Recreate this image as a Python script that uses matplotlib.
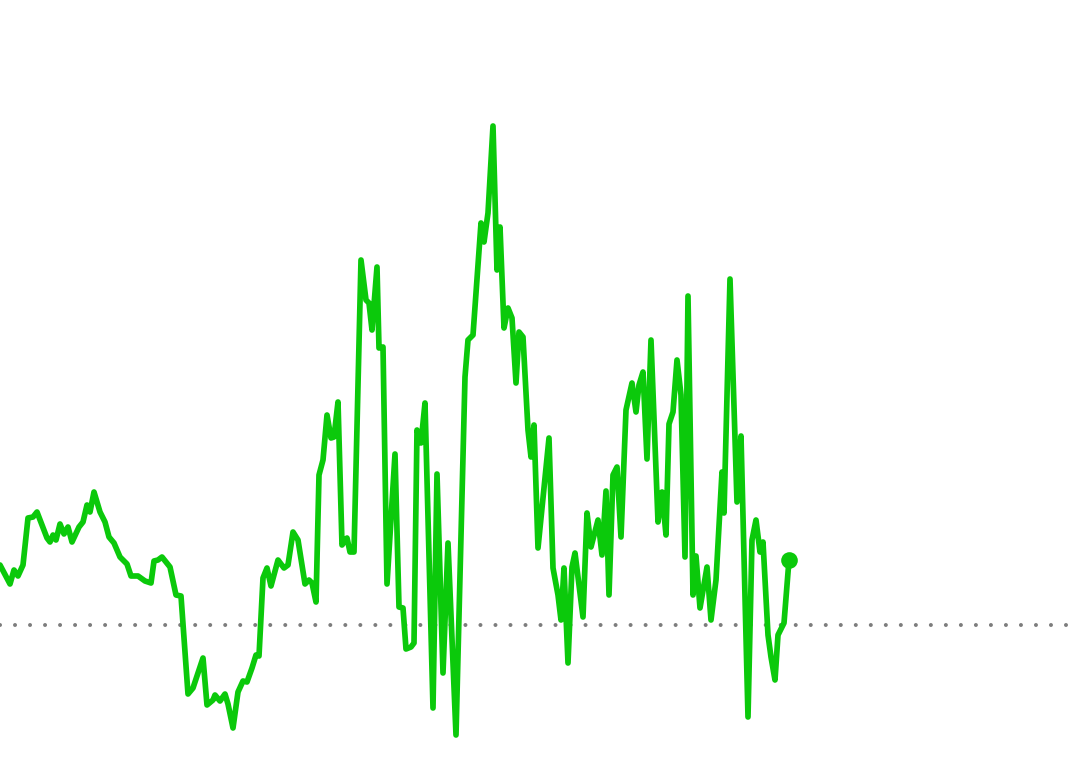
import matplotlib
matplotlib.use("Agg")
import matplotlib.pyplot as plt

# Intraday price trace (minutes since session start, price)
minutes = [
    0, 5, 7, 9, 11.5, 14, 16.5, 18.5, 23.5, 25, 26.5, 28, 30, 32, 34, 36,
    39.5, 41.5, 43.5, 45, 47, 50, 52.5, 54.5, 57, 60, 63.5, 65.5, 69, 72.5,
    75.5, 77, 79, 81, 85, 88, 90.5, 94, 96.5, 101.5, 103.5, 106.5, 107.5,
    110, 112.5, 114, 116.5, 119, 121.5, 123.5, 126, 128, 129.5, 131.5, 133.5,
    135.5, 139, 142, 144, 146.5, 149, 152.5, 154.5, 156, 158, 159.5, 161.5,
    163.5, 165.5, 167, 169, 171, 173.5, 175, 177, 180.5, 183, 184.5, 186,
    188.5, 189.5, 191.5, 193.5, 197.5, 199.5, 201.5, 203, 205.5, 207, 208.5,
    210.5, 212.5, 216.5, 218.5, 221.5, 224, 228, 232.5, 234, 236.5, 240.5,
    242, 244, 246.5, 248.5, 250, 252, 254, 256, 258, 259.5, 261.5, 264,
    265.5, 267, 269, 274.5, 276.5, 279, 280.5, 282, 284, 286, 287.5, 291.5,
    293.5, 295.5, 299, 301, 303, 304.5, 306.5, 308.5, 310.5, 313, 316, 318,
    319.5, 321.5, 323.5, 325.5, 329, 331, 333, 334.5, 336.5, 338.5, 340.5,
    342.5, 344, 346.5, 348, 350, 353.5, 355.5, 358, 361, 362, 365, 368.5,
    370.5, 374, 376, 378, 380, 381.5, 384, 385.5, 387.5, 389, 392, 394.5,
]

prices = [
    100.60, 100.41, 100.55, 100.49, 100.60, 101.07, 101.08, 101.13, 100.87,
    100.83, 100.90, 100.85, 101.01, 100.91, 100.98, 100.83, 100.98, 101.03,
    101.20, 101.13, 101.33, 101.13, 101.03, 100.88, 100.82, 100.68, 100.61,
    100.49, 100.49, 100.44, 100.42, 100.64, 100.65, 100.68, 100.58, 100.30,
    100.29, 99.31, 99.37, 99.67, 99.20, 99.25, 99.30, 99.24, 99.31, 99.21,
    98.97, 99.33, 99.44, 99.43, 99.57, 99.70, 99.69, 100.47, 100.57, 100.39,
    100.65, 100.57, 100.60, 100.93, 100.85, 100.41, 100.45, 100.42, 100.23,
    101.50, 101.65, 102.10, 101.87, 101.88, 102.23, 100.80, 100.87, 100.73,
    100.73, 103.65, 103.25, 103.22, 102.95, 103.58, 102.77, 102.78, 100.41,
    101.71, 100.18, 100.17, 99.76, 99.78, 99.82, 101.95, 101.82, 102.22,
    99.17, 101.51, 99.52, 100.82, 98.90, 102.48, 102.85, 102.90, 104.02,
    103.83, 104.12, 104.99, 103.55, 103.98, 102.97, 103.17, 103.07, 102.42,
    102.93, 102.88, 101.95, 101.68, 102.00, 100.77, 101.87, 100.57, 100.30,
    100.05, 100.57, 99.62, 100.58, 100.72, 100.08, 101.12, 100.78, 101.05,
    100.70, 101.34, 100.30, 101.50, 101.58, 100.88, 102.15, 102.42, 102.13,
    102.40, 102.53, 101.66, 102.85, 101.03, 101.33, 100.90, 102.01, 102.13,
    102.65, 102.30, 100.68, 103.29, 100.30, 100.69, 100.17, 100.58, 100.05,
    100.45, 101.53, 101.12, 103.46, 101.23, 101.89, 99.08, 100.85, 101.05,
    100.73, 100.83, 99.90, 99.68, 99.45, 99.90, 100.02, 100.65,
]

previous_close = 100.00
session_length = 539.5
price_range = (98.60, 106.25)

line_color = "#0BC90B"
ref_color = "#7d7d7d"

fig = plt.figure(figsize=(10.79, 7.65), dpi=100)
ax = fig.add_axes([0, 0, 1, 1])
ax.set_xlim(0, session_length)
ax.set_ylim(*price_range)
ax.axis("off")

# dotted previous-close reference line
plt.rcParams["lines.scale_dashes"] = False
ax.axhline(previous_close, color=ref_color, linewidth=2.9,
           linestyle=(0, (0.01, 10.8)), dash_capstyle="round", zorder=1)

ax.plot(minutes, prices, color=line_color, linewidth=4.1,
        solid_joinstyle="round", solid_capstyle="round", zorder=2)
ax.plot(minutes[-1], prices[-1], "o", color=line_color, markersize=12,
        markeredgewidth=0, zorder=3)

fig.savefig("out.png", dpi=100, facecolor="white")
